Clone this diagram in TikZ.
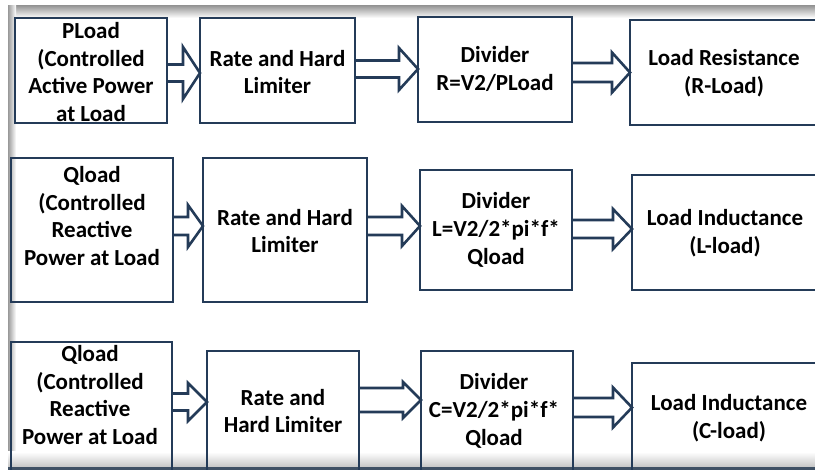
\documentclass[tikz,border=0pt]{standalone}
\usepackage{fontspec}
\setmainfont{Carlito}
\usetikzlibrary{calc}
\definecolor{edge}{HTML}{243B58}
\tikzset{
  blk/.style={draw=edge, line width=2.8pt, anchor=north west, inner sep=0pt, outer sep=0pt},
  lbl/.style={font=\bfseries\fontsize{23}{27.8}\selectfont, align=center, text=black, inner sep=0pt},
  arr/.style={draw=edge, line width=2.6pt, fill=white, line join=miter},
}
% box: name, left, top, width, height
\newcommand{\blockbox}[5]{\node[blk, minimum width=#4pt, minimum height=#5pt] (#1) at (#2,#3) {};}
% hollow block arrow: from, to, centre y, shaft half-height, head half-height, head length
\newcommand{\flow}[6]{%
  \coordinate (fy) at (0,#3);
  \coordinate (fs) at (#1.east |- fy);
  \coordinate (ft) at (#2.west |- fy);
  \draw[arr] ($(fs)+(0,-#4)$) -- ($(ft)+(-#6,-#4)$) -- ($(ft)+(-#6,-#5)$) -- (ft)
    -- ($(ft)+(-#6,#5)$) -- ($(ft)+(-#6,#4)$) -- ($(fs)+(0,#4)$);
}
\begin{document}
\begin{tikzpicture}[x=1pt,y=-1pt]
\useasboundingbox (0,0) rectangle (815,470);
\clip (0,0) rectangle (815,470);
\fill[white] (0,0) rectangle (815,470);

% window frame shading
\shade[top color=gray!80, bottom color=white] (8,6) rectangle (815,18);
\shade[left color=gray!80, right color=white] (8,6) rectangle (16,470);
\shade[top color=white, bottom color=gray!45] (8,452) rectangle (815,467);
\fill[edge!70!gray] (8,467) rectangle (815,470);

% blocks
\blockbox{a1}{15}{18}{152}{105}
\blockbox{b1}{200}{18}{155}{105}
\blockbox{c1}{418}{17}{154}{105}
\blockbox{d1}{630}{20}{200}{105}

\blockbox{a2}{11}{158}{162}{144}
\blockbox{b2}{203}{158}{164}{144}
\blockbox{c2}{420}{170}{152}{120}
\blockbox{d2}{632}{175}{200}{115}

\blockbox{a3}{11}{342}{161}{140}
\blockbox{b3}{207}{351}{152}{130}
\blockbox{c3}{421}{351}{152}{130}
\blockbox{d3}{632}{363}{200}{120}

% arrows
\flow{a1}{b1}{73}{8.5}{26}{17}
\flow{b1}{c1}{69}{8.5}{21}{19}
\flow{c1}{d1}{72.5}{9.5}{20}{18}
\flow{a2}{b2}{226}{9}{21}{15}
\flow{b2}{c2}{226}{9}{20}{18}
\flow{c2}{d2}{229}{9}{20}{19}
\flow{a3}{b3}{402}{8.5}{19}{19}
\flow{b3}{c3}{400}{12}{18}{18}
\flow{c3}{d3}{407.5}{9.5}{20}{19}

% redraw block outlines over arrow bases
\foreach \n in {a1,b1,c1,d1,a2,b2,c2,d2,a3,b3,c3,d3}
  \draw[edge, line width=2.8pt] (\n.north west) rectangle (\n.south east);

% labels
\node[lbl] (ta1) at (91,72) {PLoad\\(Controlled\\Active Power\\at Load};
\node[lbl] (tb1) at (277.5,72) {Rate and Hard\\Limiter};
\node[lbl] (tc1) at (495,69) {Divider\\R=V2/PLoad};
\node[lbl] (td1) at (724,73) {Load Resistance\\(R-Load)};

\node[lbl] (ta2) at (92,216) {Qload\\(Controlled\\Reactive\\Power at Load};
\node[lbl] (tb2) at (285,231) {Rate and Hard\\Limiter};
\node[lbl] (tc2) at (496,230) {Divider\\L=V2/2*pi*f*\\Qload};
\node[lbl] (td2) at (725,233) {Load Inductance\\(L-load)};

\node[lbl] (ta3) at (90,395) {Qload\\(Controlled\\Reactive\\Power at Load};
\node[lbl] (tb3) at (283,411) {Rate and\\Hard Limiter};
\node[lbl] (tc3) at (494,411) {Divider\\C=V2/2*pi*f*\\Qload};
\node[lbl] (td3) at (729,418) {Load Inductance\\(C-load)};
\end{tikzpicture}
\end{document}
